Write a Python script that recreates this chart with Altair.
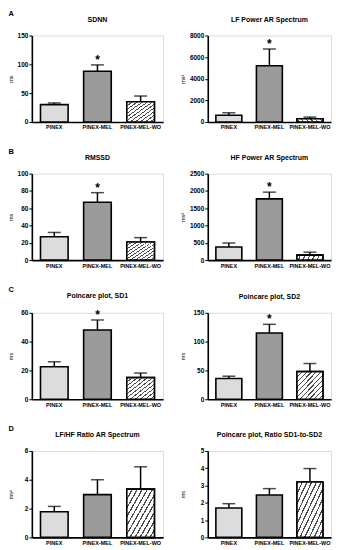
import altair as alt
import pandas as pd

groups = ["PINEX", "PINEX-MEL", "PINEX-MEL-WO"]
titles = ["SDNN", "LF Power AR Spectrum", "RMSSD", "HF Power AR Spectrum",
          "Poincare plot, SD1", "Poincare plot, SD2",
          "LF/HF Ratio AR Spectrum", "Poincare plot, Ratio SD1-to-SD2"]
y_titles = ["ms", "ms²", "ms", "ms²", "ms", "ms", "ms²", "ms"]
letters = ["A", "B", "C", "D"]

means = [
    [30, 88, 35],
    [620, 5200, 290],
    [27, 67, 21],
    [380, 1770, 145],
    [22.5, 48, 15],
    [36, 115, 48],
    [1.78, 2.97, 3.35],
    [1.7, 2.45, 3.2],
]
uppers = [
    [33, 99, 45],
    [850, 6750, 450],
    [32, 78, 26],
    [495, 1965, 230],
    [26, 55, 18.2],
    [40, 130, 62],
    [2.15, 4.0, 4.9],
    [1.95, 2.82, 3.98],
]
stars = [True, True, True, True, True, True, False, False]
y_max = [150, 8000, 100, 2500, 60, 150, 6, 5]
y_ticks = [
    [0, 50, 100, 150],
    [0, 2000, 4000, 6000, 8000],
    [0, 20, 40, 60, 80, 100],
    [0, 500, 1000, 1500, 2000, 2500],
    [0, 20, 40, 60],
    [0, 50, 100, 150],
    [0, 2, 4, 6],
    [0, 1, 2, 3, 4, 5],
]

FONT = "Liberation Sans"

# diagonal hatch built as a striped linear gradient
n_stripes = 11
stops = []
for k in range(n_stripes):
    a = k / n_stripes
    b = (k + 0.28) / n_stripes
    c = (k + 1) / n_stripes
    stops += [{"offset": a, "color": "#4a4a4a"}, {"offset": b, "color": "#4a4a4a"},
              {"offset": b, "color": "#ffffff"}, {"offset": c, "color": "#ffffff"}]
hatch = {"gradient": "linear", "x1": 0, "y1": 0, "x2": 1, "y2": 1, "stops": stops}


def panel(i):
    col = i % 2
    df = pd.DataFrame({
        "group": groups,
        "mean": means[i],
        "upper": uppers[i],
        "star": [stars[i] and g == "PINEX-MEL" for g in groups],
    })
    width = 132 if col == 0 else 124
    extent = 16 if col == 0 else 20
    x = alt.X("group:N", sort=groups,
              scale=alt.Scale(paddingInner=0.36, paddingOuter=0.2),
              axis=alt.Axis(title=None, labelAngle=0, labelFontSize=5.5,
                            labelFontWeight="bold", labelFont=FONT, labelColor="black",
                            ticks=False, labelPadding=3, domainColor="black",
                            domainWidth=1.6, labelOverlap=False))
    yscale = alt.Scale(domain=[0, y_max[i]], nice=False, zero=True)
    yaxis = alt.Axis(title=y_titles[i], values=y_ticks[i], grid=False, format="d",
                     labelFontSize=6.5, labelFontWeight="bold", labelFont=FONT,
                     labelColor="black", tickColor="black", tickSize=3, tickWidth=1,
                     domainColor="black", domainWidth=1.6, labelPadding=1,
                     labelOverlap=False, labelFlush=False,
                     titleFontSize=5.5, titleFontWeight="normal", titleFont=FONT,
                     titleColor="black", titlePadding=2,
                     minExtent=extent, maxExtent=extent)
    y_mean = alt.Y("mean:Q", scale=yscale, axis=yaxis)
    y_up = alt.Y("upper:Q", scale=yscale, axis=yaxis)
    base = alt.Chart(df).encode(x=x)
    bars = base.mark_bar(stroke="black", strokeWidth=1.6).encode(
        y=y_mean,
        fill=alt.Fill("group:N", scale=alt.Scale(domain=groups,
                      range=["#dcdcdc", "#9b9b9b", "#ffffff"]), legend=None),
    )
    hatched = base.transform_filter(alt.datum.group == "PINEX-MEL-WO").mark_bar(
        fill=hatch, stroke="black", strokeWidth=1.6).encode(y=y_mean)
    err = base.mark_rule(color="black", strokeWidth=1.5).encode(
        y=y_mean, y2="upper:Q")
    cap = base.mark_tick(color="black", size=13, thickness=1.5).encode(y=y_up)
    layers = [bars, hatched, err, cap]
    if stars[i]:
        star = base.transform_filter(alt.datum.star).mark_text(
            text="*", fontSize=12, fontWeight="bold", font=FONT, color="black",
            baseline="alphabetic", dy=-1).encode(y=y_up)
        layers.append(star)
    return alt.layer(*layers).properties(
        width=width, height=87,
        title=alt.TitleParams(titles[i], fontSize=7, fontWeight="bold",
                              font=FONT, color="black", offset=10),
    )


rows = [
    alt.hconcat(panel(2 * r), panel(2 * r + 1), spacing=16).properties(
        title=alt.TitleParams(letters[r], anchor="start", fontSize=7.5,
                              fontWeight="bold", font=FONT, color="black", offset=-2))
    for r in range(4)
]
chart = alt.vconcat(*rows, spacing=17).properties(padding=0).configure_view(
    stroke=None).configure(background="white")

chart.save("out.html", embed_options={"renderer": "svg", "actions": False})
